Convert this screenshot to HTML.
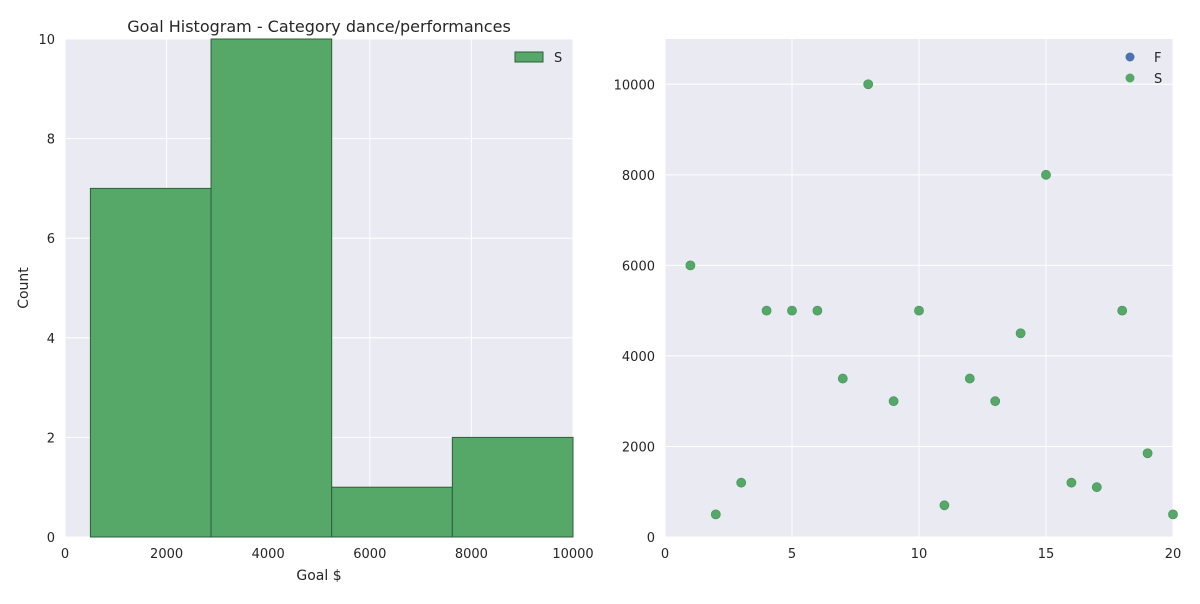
<!DOCTYPE html>
<html><head><meta charset="utf-8"><style>
body{margin:0;background:#fff;font-family:"DejaVu Sans","Liberation Sans",sans-serif;}
svg text{font-family:"DejaVu Sans","Liberation Sans",sans-serif;fill:#262626;}
</style></head><body>
<svg id="c" width="1200" height="600"></svg>
<script>
const binEdges=[500,2875,5250,7625,10000];
const binCounts=[7,10,1,2];
const histXTicks=[0,2000,4000,6000,8000,10000];
const histYTicks=[0,2,4,6,8,10];
const scatterX=[1,2,3,4,5,6,7,8,9,10,11,12,13,14,15,16,17,18,19,20];
const scatterY=[6000,500,1200,5000,5000,5000,3500,10000,3000,5000,700,3500,3000,4500,8000,1200,1100,5000,1850,500];
const scatXTicks=[0,5,10,15,20];
const scatYTicks=[0,2000,4000,6000,8000,10000];

const svg=document.getElementById('c');
const NS='http://www.w3.org/2000/svg';
function mk(tag,attrs,parent){const e=document.createElementNS(NS,tag);for(const k in attrs)e.setAttribute(k,attrs[k]);(parent||svg).appendChild(e);return e;}
function txt(s,x,y,anchor,size,name){const t=mk('text',{x:x,y:y,'text-anchor':anchor,'font-size':size});t.textContent=s;return t;}

// Left histogram
const L={x0:65,x1:573,y0:537,y1:39};
const hx=v=>L.x0+(v-0)/(10000-0)*(L.x1-L.x0);
const hy=v=>L.y0-(v/10)*(L.y0-L.y1);
let bg=mk('rect',{x:L.x0,y:L.y1,width:L.x1-L.x0,height:L.y0-L.y1,fill:'#EAEAF2'});


histXTicks.forEach(v=>{let g=mk('line',{x1:hx(v),x2:hx(v),y1:L.y1,y2:L.y0,stroke:'#fff','stroke-width':1});
 txt(String(v),hx(v),558,'middle',13,'hist-x-tick-label');});
histYTicks.forEach(v=>{let g=mk('line',{x1:L.x0,x2:L.x1,y1:hy(v),y2:hy(v),stroke:'#fff','stroke-width':1});
 txt(String(v),55,hy(v)+5,'end',13,'hist-y-tick-label');});
binCounts.forEach((c,i)=>{let r=mk('rect',{x:hx(binEdges[i]),y:hy(c),width:hx(binEdges[i+1])-hx(binEdges[i]),height:hy(0)-hy(c),fill:'#55A868',stroke:'#2f5e3a','stroke-width':1});
 });
txt('Goal Histogram - Category dance/performances',319,32,'middle',16,'hist-title');
txt('Goal $',319,580,'middle',14,'hist-x-axis-title');
let yt=txt('Count',28,288,'middle',14,'hist-y-axis-title');yt.setAttribute('transform','rotate(-90 28 288)');
let lr=mk('rect',{x:515,y:52,width:28,height:10,fill:'#55A868',stroke:'#2f5e3a'});
txt('S',554,62,'start',13,'hist-legend-label');

// Right scatter
const R={x0:665,x1:1173,y0:537,y1:39};
const sx=v=>R.x0+v/20*(R.x1-R.x0);
const sy=v=>R.y0-v/11000*(R.y0-R.y1);
let bg2=mk('rect',{x:R.x0,y:R.y1,width:R.x1-R.x0,height:R.y0-R.y1,fill:'#EAEAF2'});


scatXTicks.forEach(v=>{let g=mk('line',{x1:sx(v),x2:sx(v),y1:R.y1,y2:R.y0,stroke:'#fff','stroke-width':1});
 txt(String(v),sx(v),558,'middle',13,'scatter-x-tick-label');});
scatYTicks.forEach(v=>{let g=mk('line',{x1:R.x0,x2:R.x1,y1:sy(v),y2:sy(v),stroke:'#fff','stroke-width':1});
 txt(String(v),655,sy(v)+5,'end',13,'scatter-y-tick-label');});
scatterX.forEach((x,i)=>{let c=mk('circle',{cx:sx(x),cy:sy(scatterY[i]),r:4.5,fill:'#55A868',stroke:'#4a9a5c','stroke-width':0.8});
 });
let l1=mk('circle',{cx:1130,cy:57,r:4.5,fill:'#4C72B0'});
txt('F',1154,62,'start',13,'scatter-legend-f-label');
let l2=mk('circle',{cx:1130,cy:78,r:4.5,fill:'#55A868'});
txt('S',1154,83,'start',13,'scatter-legend-s-label');
</script>
</body></html>
